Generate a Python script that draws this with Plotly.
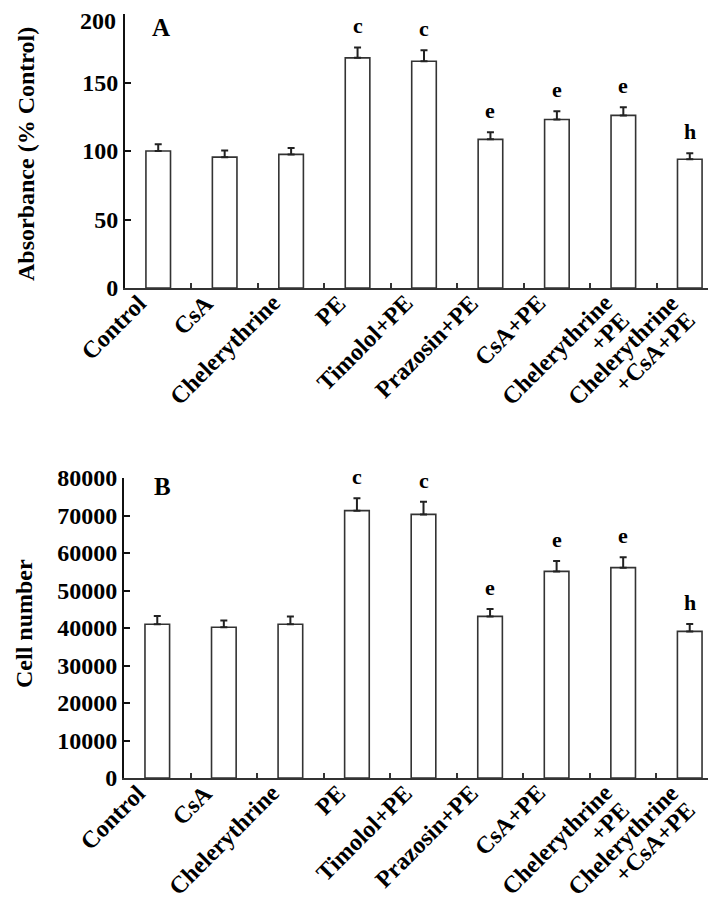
import plotly.graph_objects as go

categories = ["Control", "CsA", "Chelerythrine", "PE", "Timolol+PE", "Prazosin+PE",
              "CsA+PE", "Chelerythrine<br>+PE", "Chelerythrine<br>+CsA+PE"]

absorbance = [100, 95.5, 97.5, 168, 165.5, 108.5, 123, 126, 94]
absorbance_err = [5, 4.8, 4.6, 7.6, 8, 5.2, 6, 6, 4.4]
absorbance_letters = ["", "", "", "c", "c", "e", "e", "e", "h"]
absorbance_ticks = [0, 50, 100, 150, 200]

cells = [41000, 40200, 41000, 71300, 70300, 43100, 55100, 56100, 39100]
cells_err = [2200, 1800, 2100, 3300, 3400, 2000, 2800, 2800, 2000]
cells_letters = ["", "", "", "c", "c", "e", "e", "e", "h"]
cells_ticks = [0, 10000, 20000, 30000, 40000, 50000, 60000, 70000, 80000]

FONT = "Liberation Serif"
XFS = 24

fig = go.Figure()

def add_panel(vals, errs, xa, ya):
    fig.add_trace(go.Bar(
        x=categories, y=vals, xaxis=xa, yaxis=ya, width=0.37,
        marker=dict(color="white", line=dict(color="#333333", width=1.6)),
        error_y=dict(type="data", symmetric=False, array=errs,
                     arrayminus=[0] * len(errs), color="#222222",
                     thickness=2, width=3.5),
        showlegend=False,
    ))

add_panel(absorbance, absorbance_err, "x", "y")
add_panel(cells, cells_err, "x2", "y2")

xcommon = dict(type="category", showticklabels=False, automargin=False,
               showline=True, linecolor="#333333", linewidth=2,
               ticks="inside", tickson="boundaries", ticklen=5,
               tickcolor="#333333", tickwidth=1.5, showgrid=False,
               range=[-0.5, 8.5], zeroline=False)
ycommon = dict(tickfont=dict(family=FONT, size=24, color="black", weight="bold"),
               automargin=False, ticklabeloverflow="allow",
               showline=True, linecolor="#111111", linewidth=2,
               ticks="inside", ticklen=6, tickcolor="#111111", tickwidth=1.5,
               showgrid=False, zeroline=False)

fig.update_layout(
    template="none",
    width=716, height=905,
    margin=dict(l=0, r=0, t=0, b=0),
    plot_bgcolor="white", paper_bgcolor="white",
    xaxis=dict(domain=[117 / 716, 715 / 716], anchor="y", **xcommon),
    yaxis=dict(domain=[1 - 280 / 905, 1 - 6 / 905], anchor="x",
               range=[0, 200], tickvals=absorbance_ticks,
               ticktext=[str(t) for t in absorbance_ticks[:-1]] + [""], **ycommon),
    xaxis2=dict(domain=[116 / 716, 715 / 716], anchor="y2", **xcommon),
    yaxis2=dict(domain=[1 - 770 / 905, 1 - 470 / 905], anchor="x2",
                range=[0, 80000], tickvals=cells_ticks,
                ticktext=[str(t) for t in cells_ticks], **ycommon),
)

ann = []
letter_font = dict(family=FONT, size=22, color="black", weight="bold")
for cat, v, e, t in zip(categories, absorbance, absorbance_err, absorbance_letters):
    if t:
        ann.append(dict(x=cat, y=v + e, xref="x", yref="y", text=t, showarrow=False,
                        yanchor="bottom", yshift=7, font=letter_font))
for cat, v, e, t in zip(categories, cells, cells_err, cells_letters):
    if t:
        ann.append(dict(x=cat, y=v + e, xref="x2", yref="y2", text=t, showarrow=False,
                        yanchor="bottom", yshift=7, font=letter_font))

# rotated category labels under both panels (one annotation per text line)
base_shift = 0.707 * XFS * 1.2 - 24
line_step = 17
for xr, yr in (("x", "y domain"), ("x2", "y2 domain")):
    for cat in categories:
        for i, line in enumerate(cat.split("<br>")):
            ann.append(dict(x=cat, y=0, xref=xr, yref=yr, text=line, showarrow=False,
                            textangle=-45, xanchor="right", yanchor="top",
                            xshift=base_shift + i * line_step, yshift=1 - i * line_step,
                            font=dict(family=FONT, size=XFS, color="black",
                                      weight="bold")))

ann.append(dict(x=110 / 716, y=1 - 12.5 / 905, xref="paper", yref="paper", text="200",
                showarrow=False, xanchor="right", yanchor="middle",
                font=dict(family=FONT, size=24, color="black", weight="bold")))
ann.append(dict(x=153 / 716, y=1 - 19 / 905, xref="paper", yref="paper", text="A",
                showarrow=False, xanchor="center", yanchor="middle",
                font=dict(family=FONT, size=25, color="black", weight="bold")))
ann.append(dict(x=154 / 716, y=1 - 479 / 905, xref="paper", yref="paper", text="B",
                showarrow=False, xanchor="center", yanchor="middle",
                font=dict(family=FONT, size=25, color="black", weight="bold")))
ann.append(dict(x=18 / 716, y=1 - 146 / 905, xref="paper", yref="paper",
                text="Absorbance (% Control)", textangle=-90, showarrow=False,
                xanchor="center", yanchor="middle",
                font=dict(family=FONT, size=24, color="black", weight="bold")))
ann.append(dict(x=16 / 716, y=1 - 616 / 905, xref="paper", yref="paper",
                text="Cell number", textangle=-90, showarrow=False,
                xanchor="center", yanchor="middle",
                font=dict(family=FONT, size=24, color="black", weight="bold")))

fig.update_layout(annotations=ann)
fig.write_html("out.html")
